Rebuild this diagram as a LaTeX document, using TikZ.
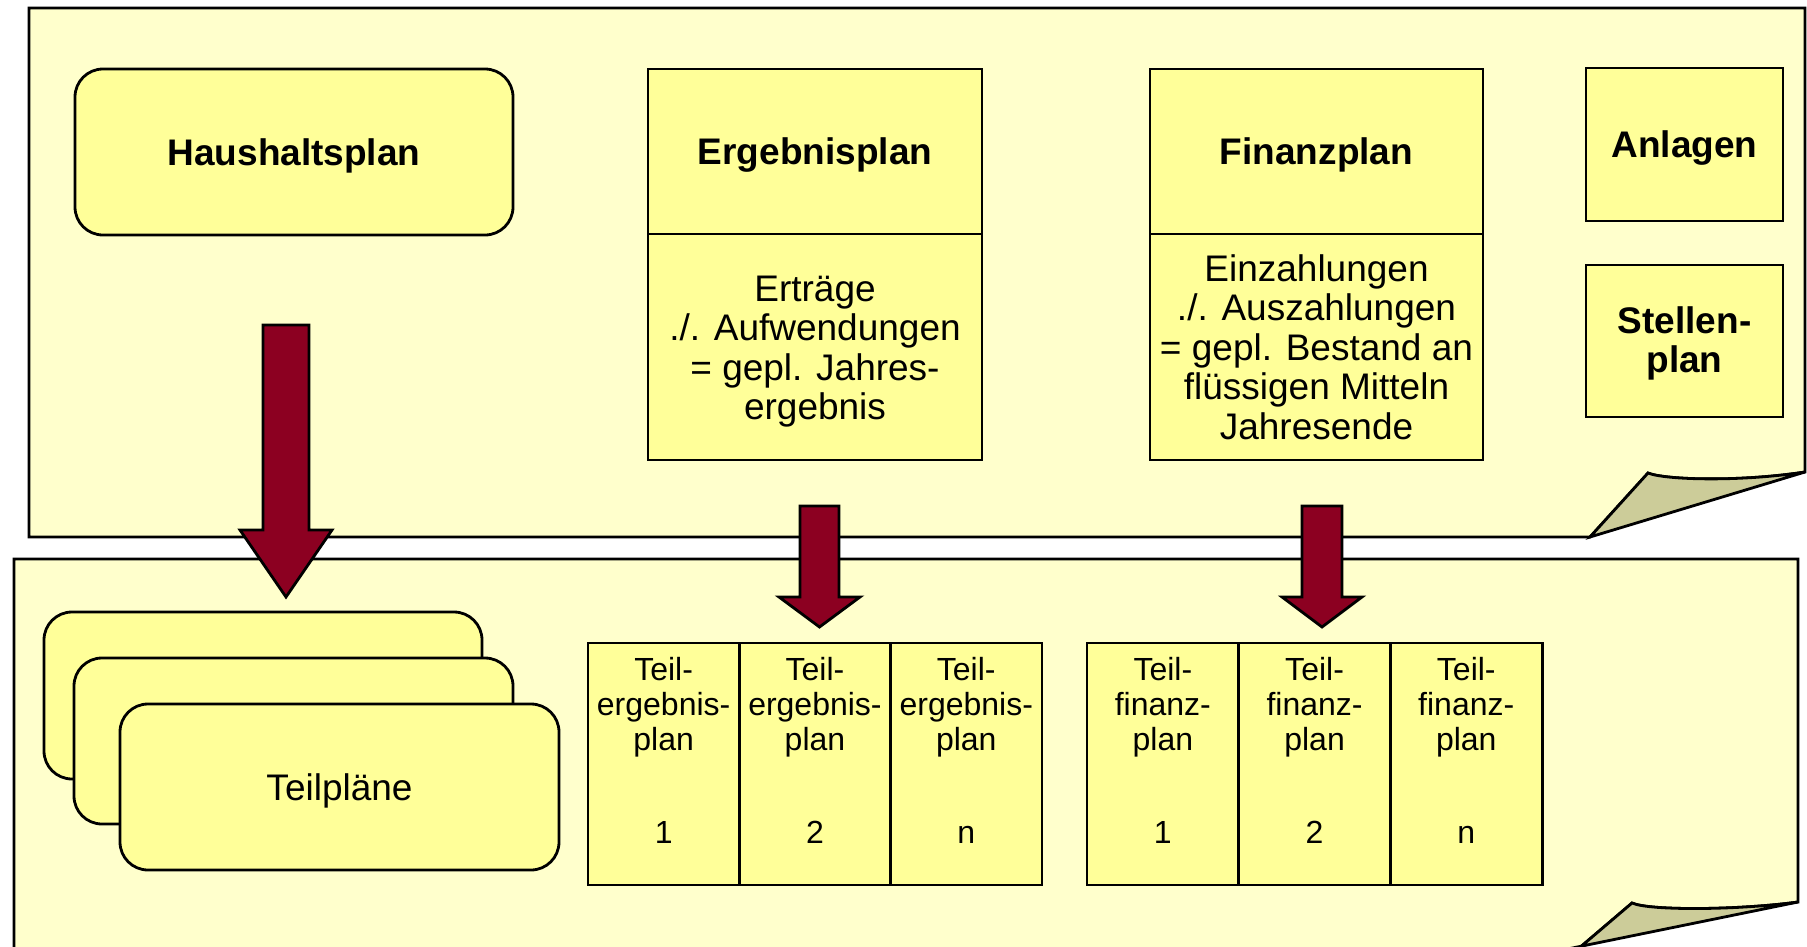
\documentclass[tikz,border=0pt]{standalone}
\usepackage{fontspec}
\setmainfont{Liberation Sans}
\usetikzlibrary{positioning,calc}

\definecolor{panelyellow}{HTML}{FFFFCC}
\definecolor{boxyellow}{HTML}{FFFF99}
\definecolor{foldkhaki}{HTML}{CCCC99}
\definecolor{arrowred}{HTML}{8C0021}

% block arrow: x, top, head top, tip, half shaft, half head
\newcommand{\planarrow}[6]{%
  \filldraw[redarrow] (#1-#5,#2) -- (#1+#5,#2) -- (#1+#5,#3) -- (#1+#6,#3)
    -- (#1,#4) -- (#1-#6,#3) -- (#1-#5,#3) -- cycle;}

\begin{document}
\begin{tikzpicture}[x=1pt, y=-1pt,
  panel/.style={draw=black, line width=2.8pt, fill=panelyellow},
  flap/.style={draw=black, line width=2.8pt, fill=foldkhaki},
  planbox/.style={draw=black, line width=2.8pt, fill=boxyellow, outer sep=0pt, inner sep=0pt},
  roundbox/.style={planbox, rounded corners=28pt},
  titlefont/.style={font=\fontsize{37pt}{39.5pt}\selectfont\bfseries, text height=26.5pt, text depth=0pt},
  plainfont/.style={font=\fontsize{37pt}{39.5pt}\selectfont, text height=26.5pt, text depth=0pt},
  bodyfont/.style={font=\fontsize{37pt}{39.5pt}\selectfont, align=center},
  teilfont/.style={font=\fontsize{32pt}{35pt}\selectfont, align=center, inner sep=0pt},
  redarrow/.style={draw=black, line width=2.8pt, fill=arrowred}]

\useasboundingbox (0,0) rectangle (1807,946);
\clip (0,0) rectangle (1807,946);

% upper sheet with curled corner
\draw[panel] (29,8) -- (1805,8) -- (1805,472) .. controls (1740,482) and (1665,480) .. (1648,473)
  -- (1590,537) -- (29,537) -- cycle;
\draw[flap] (1590,537) -- (1648,473) .. controls (1665,480) and (1740,482) .. (1805,472) -- cycle;

% lower sheet
\draw[panel] (14,960) -- (14,559) -- (1798,559) -- (1798,902) .. controls (1740,910) and (1650,911) .. (1632,903)
  -- (1571,955) -- (1571,960) -- cycle;
\draw[flap] (1632,903) -- (1571,955) -- (1538,955) -- (1798,902) .. controls (1740,910) and (1650,911) .. (1632,903) -- cycle;

% Haushaltsplan
\node[roundbox, titlefont, minimum width=438pt, minimum height=166pt, anchor=north west] (haushalt) at (75,69) {Haushaltsplan};

% Ergebnisplan
\node[planbox, titlefont, minimum width=334pt, minimum height=165pt, anchor=north west] (erghead) at (648,69) {Ergebnisplan};
\node[planbox, bodyfont, minimum width=334pt, minimum height=226pt, below=0pt of erghead] (ergbody)
  {\rule{0pt}{35pt}Erträge\\./. Aufwendungen\\= gepl. Jahres-\\ergebnis};

% Finanzplan
\node[planbox, titlefont, minimum width=333pt, minimum height=165pt, anchor=north west] (finhead) at (1150,69) {Finanzplan};
\node[planbox, bodyfont, minimum width=333pt, minimum height=226pt, below=0pt of finhead] (finbody)
  {Einzahlungen\\./. Auszahlungen\\= gepl. Bestand an\\flüssigen Mitteln\\Jahresende};

% Anlagen, Stellenplan
\node[planbox, titlefont, minimum width=197pt, minimum height=153pt, anchor=north west] (anlagen) at (1586,68) {Anlagen};
\node[planbox, font=\fontsize{37pt}{39pt}\selectfont\bfseries, align=center, minimum width=197pt, minimum height=152pt,
  anchor=north west] (stellen) at (1586,265) {\rule{0pt}{31pt}Stellen-\\plan};

% Teilplaene stack
\node[roundbox, minimum width=438pt, minimum height=167pt, anchor=north west] (teil3) at (44,612) {};
\node[roundbox, minimum width=439pt, minimum height=166pt, anchor=north west] (teil2) at (74,658) {};
\node[roundbox, plainfont, minimum width=439pt, minimum height=166pt, anchor=north west] (teil1) at (120,704) {Teilpläne};

% Teilergebnisplaene
\node[planbox, minimum width=151.3pt, minimum height=242pt, anchor=north west] (terg1) at (588,643) {};
\node[planbox, minimum width=151.3pt, minimum height=242pt, right=0pt of terg1] (terg2) {};
\node[planbox, minimum width=151.3pt, minimum height=242pt, right=0pt of terg2] (terg3) {};

% Teilfinanzplaene
\node[planbox, minimum width=151.7pt, minimum height=242pt, anchor=north west] (tfin1) at (1087,643) {};
\node[planbox, minimum width=151.7pt, minimum height=242pt, right=0pt of tfin1] (tfin2) {};
\node[planbox, minimum width=151.7pt, minimum height=242pt, right=0pt of tfin2] (tfin3) {};

\foreach \i/\n in {1/1,2/2,3/n} {
  \node[teilfont, anchor=north] at ($(terg\i.north)+(0,14.5)$) {Teil-\\ergebnis-\\plan\\[58pt]\n};
  \node[teilfont, anchor=north] at ($(tfin\i.north)+(0,14.5)$) {Teil-\\finanz-\\plan\\[58pt]\n};
}

% arrows
\planarrow{286}{325}{530}{597}{23}{46}
\planarrow{819.5}{506}{597}{627}{19.5}{40.5}
\planarrow{1322}{506}{597}{627}{20}{40}

\end{tikzpicture}
\end{document}
